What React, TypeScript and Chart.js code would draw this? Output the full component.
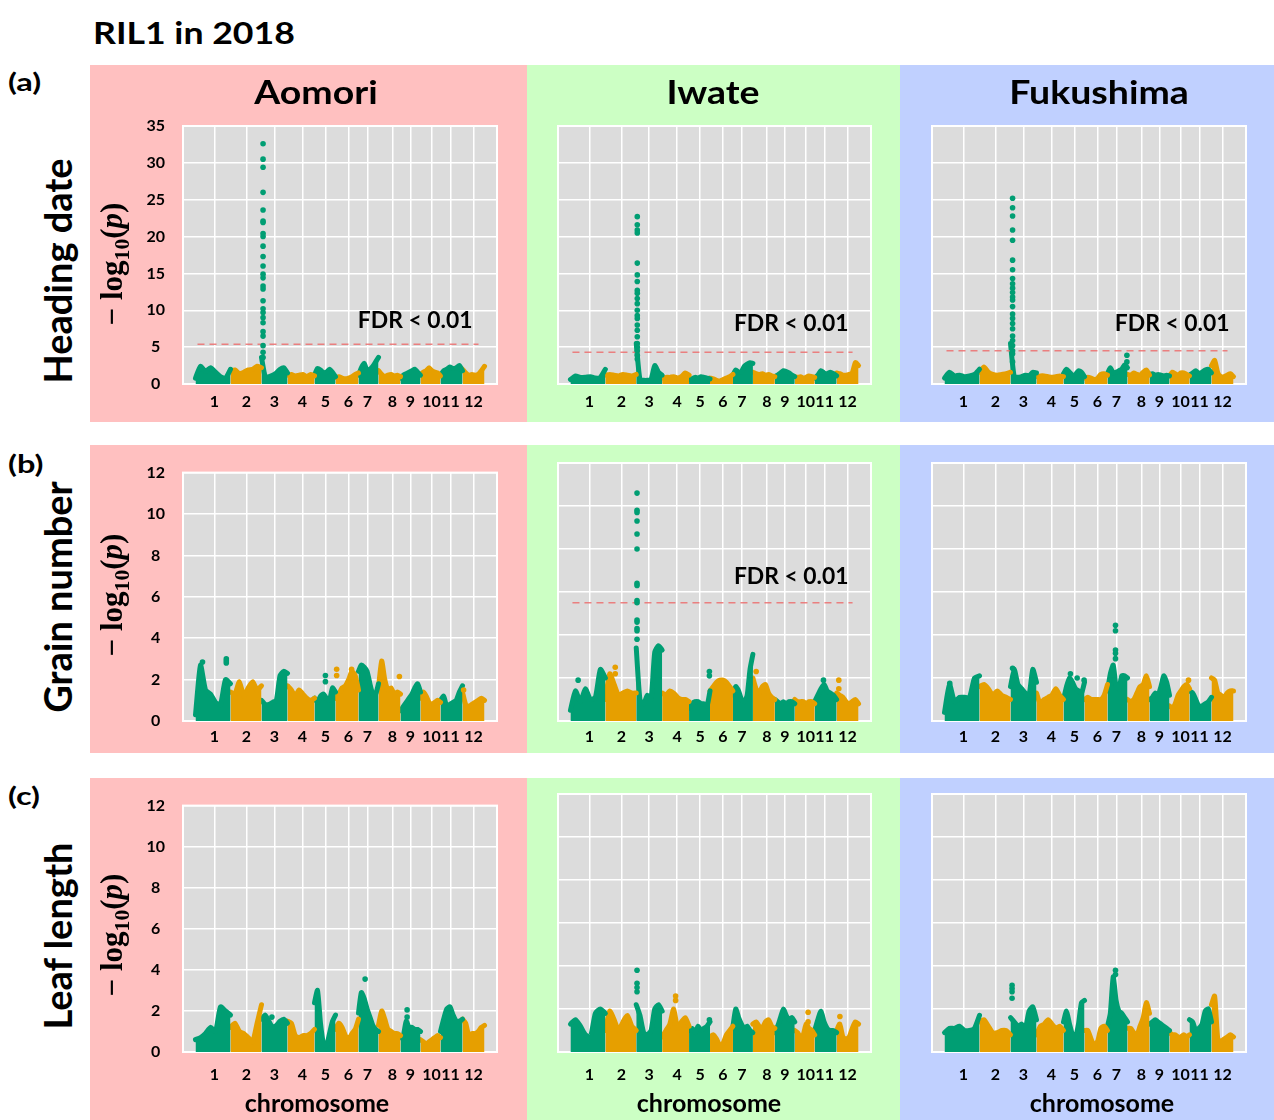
import React, { useEffect, useRef } from 'react';
import { Chart, registerables } from 'chart.js';

Chart.register(...registerables);

// ---------------- data ----------------
const CHROM_LABELS = ['1', '2', '3', '4', '5', '6', '7', '8', '9', '10', '11', '12'];
// cumulative marker index at chromosome boundaries
const CHROM_BOUNDS = [0, 35, 66, 92, 119, 140, 163, 183, 205, 225, 245, 267, 289];
// tick (label) positions on the marker index axis
const TICK_POS = [19, 51, 79, 107, 130, 153, 172, 197, 215, 236, 255, 278];
const X_MIN = -12.5;
const X_MAX = 301.5;

// upper envelopes of -log10(p) along each chromosome (8 readings per chromosome)
const HD_AOMORI = [
  [0.8, 2.4, 1.7, 2.2, 1.6, 1.0, 0.8, 2.0],
  [1.8, 1.9, 1.4, 1.6, 1.9, 2.0, 2.4, 2.2],
  [3.6, 1.0, 1.0, 1.2, 1.5, 2.0, 2.2, 1.5],
  [1.2, 1.3, 1.1, 1.2, 1.3, 1.0, 1.3, 1.1],
  [1.2, 2.1, 1.9, 1.5, 1.6, 2.0, 1.6, 1.0],
  [0.9, 1.0, 0.8, 0.7, 0.8, 1.0, 1.3, 1.5],
  [1.2, 2.2, 2.8, 1.8, 2.0, 2.4, 3.0, 3.6],
  [1.8, 1.3, 1.0, 1.2, 1.3, 1.1, 1.2, 1.0],
  [0.8, 1.2, 1.4, 1.6, 1.8, 2.0, 1.6, 1.2],
  [1.3, 1.6, 1.8, 2.2, 1.8, 1.6, 1.5, 1.1],
  [1.2, 1.8, 2.0, 2.3, 2.1, 2.2, 2.5, 1.8],
  [2.0, 1.5, 1.2, 1.3, 1.2, 1.3, 1.8, 2.4],
];
const HD_IWATE = [
  [0.6, 1.1, 0.9, 0.9, 1.0, 0.8, 0.9, 2.0],
  [1.2, 1.3, 1.2, 1.1, 1.3, 1.2, 1.1, 1.3],
  [5.5, 0.6, 0.5, 0.5, 0.6, 2.5, 1.6, 1.2],
  [0.8, 0.9, 0.9, 1.0, 0.8, 1.0, 1.5, 1.2],
  [0.6, 0.7, 0.9, 0.8, 1.0, 0.9, 0.8, 0.7],
  [0.8, 0.7, 0.5, 0.4, 0.6, 0.8, 1.0, 1.3],
  [1.2, 1.9, 1.6, 1.7, 2.4, 2.7, 2.9, 2.8],
  [1.6, 1.4, 1.3, 1.4, 1.2, 1.3, 1.1, 1.0],
  [1.0, 1.2, 1.5, 1.8, 1.7, 1.5, 1.2, 1.0],
  [1.0, 0.9, 1.0, 0.8, 0.9, 1.1, 1.0, 0.9],
  [0.8, 1.2, 1.8, 1.5, 1.4, 1.6, 1.4, 1.1],
  [1.5, 1.4, 1.2, 1.2, 1.3, 1.5, 2.9, 2.5],
];
const HD_FUKUSHIMA = [
  [0.8, 1.6, 1.1, 1.2, 1.0, 1.1, 1.3, 2.0],
  [1.6, 2.3, 1.6, 1.3, 1.2, 1.3, 1.4, 1.6],
  [5.5, 1.0, 0.9, 1.0, 1.2, 1.1, 1.6, 1.5],
  [1.0, 1.1, 1.1, 1.0, 0.9, 1.0, 1.1, 1.0],
  [1.4, 2.0, 1.6, 1.2, 1.3, 1.8, 1.6, 1.0],
  [0.8, 0.9, 0.8, 0.6, 0.8, 1.3, 1.4, 1.2],
  [1.4, 2.2, 1.5, 1.6, 1.8, 2.0, 2.6, 2.2],
  [1.3, 1.2, 1.5, 1.3, 1.2, 1.6, 1.9, 1.2],
  [1.3, 1.4, 1.2, 1.3, 1.2, 1.1, 1.2, 1.1],
  [1.1, 1.6, 1.4, 1.2, 1.5, 1.5, 1.3, 1.1],
  [1.2, 1.5, 1.8, 1.4, 1.6, 1.9, 2.0, 1.5],
  [2.5, 3.2, 1.5, 1.0, 1.0, 1.2, 1.4, 1.0],
];
const GN_AOMORI = [
  [0.3, 2.7, 1.5, 1.3, 0.9, 0.8, 2.0, 1.8],
  [1.4, 1.3, 1.9, 1.2, 1.6, 1.9, 1.5, 1.7],
  [1.0, 0.8, 0.8, 0.9, 1.0, 2.2, 2.4, 2.3],
  [1.7, 1.5, 1.2, 1.5, 1.3, 1.1, 1.0, 1.1],
  [1.1, 0.9, 1.2, 1.3, 1.1, 1.0, 1.6, 1.4],
  [1.1, 1.3, 1.6, 1.7, 2.0, 2.4, 2.2, 1.5],
  [2.4, 2.7, 2.6, 2.4, 1.8, 1.3, 1.3, 1.8],
  [1.6, 2.9, 2.0, 1.5, 1.6, 1.3, 1.4, 1.3],
  [0.5, 0.7, 0.9, 1.1, 1.3, 1.6, 1.8, 1.4],
  [1.1, 1.4, 1.2, 0.9, 0.8, 0.9, 1.0, 0.9],
  [1.0, 1.2, 0.7, 0.8, 0.9, 1.0, 1.4, 1.7],
  [1.4, 0.8, 0.7, 0.8, 0.9, 1.0, 1.1, 1.0],
];
const GN_IWATE = [
  [0.5, 1.4, 0.9, 1.5, 1.0, 1.1, 2.4, 2.0],
  [1.0, 2.2, 1.7, 1.2, 1.3, 1.4, 1.3, 1.3],
  [3.4, 1.0, 0.8, 1.2, 1.0, 3.2, 3.5, 3.3],
  [1.3, 1.2, 1.4, 1.3, 1.1, 1.0, 1.0, 0.9],
  [0.6, 0.8, 0.9, 0.9, 0.8, 0.8, 0.7, 1.4],
  [1.4, 1.6, 1.8, 1.9, 1.9, 1.8, 1.6, 1.4],
  [1.2, 1.6, 1.4, 1.0, 0.9, 1.2, 2.4, 3.1],
  [2.0, 1.5, 1.3, 1.6, 1.7, 1.3, 1.1, 1.0],
  [1.0, 0.9, 0.8, 0.9, 0.8, 0.9, 0.9, 0.8],
  [1.0, 0.9, 0.9, 0.9, 0.8, 0.9, 0.9, 0.8],
  [0.9, 1.2, 1.5, 1.7, 1.4, 1.3, 1.2, 1.0],
  [1.3, 1.2, 1.1, 0.9, 0.8, 0.9, 1.0, 0.8],
];
const GN_FUKUSHIMA = [
  [0.4, 1.7, 0.9, 1.1, 1.1, 1.1, 2.0, 2.1],
  [1.6, 1.7, 1.5, 1.2, 1.4, 1.2, 1.1, 1.0],
  [1.6, 2.4, 1.7, 1.5, 1.3, 1.2, 2.4, 1.8],
  [1.3, 0.8, 1.0, 1.1, 1.2, 1.5, 1.2, 1.0],
  [1.0, 1.6, 2.0, 1.8, 1.5, 1.4, 1.3, 1.8],
  [1.0, 1.1, 1.0, 1.0, 1.0, 1.0, 1.2, 1.7],
  [1.4, 2.2, 2.6, 1.6, 1.5, 2.1, 2.1, 2.0],
  [1.0, 0.9, 1.0, 1.3, 1.6, 1.7, 2.1, 1.6],
  [1.0, 1.1, 1.3, 1.2, 1.6, 2.1, 1.8, 1.2],
  [0.7, 0.6, 0.8, 1.2, 1.4, 1.6, 1.7, 1.5],
  [1.4, 1.3, 1.0, 0.7, 0.7, 0.8, 0.9, 1.1],
  [2.0, 1.9, 1.3, 1.2, 1.1, 1.3, 1.4, 1.4],
];
const LL_AOMORI = [
  [0.6, 0.7, 0.9, 1.2, 1.0, 2.2, 2.0, 1.8],
  [1.2, 1.4, 1.0, 0.9, 0.7, 0.5, 1.4, 2.3],
  [1.6, 1.8, 1.5, 1.2, 1.3, 1.5, 1.6, 1.4],
  [1.5, 1.4, 0.8, 0.7, 0.8, 0.8, 0.9, 1.1],
  [2.4, 3.0, 1.4, 0.4, 0.3, 0.9, 1.5, 1.8],
  [1.1, 1.4, 1.2, 0.8, 0.6, 0.9, 1.1, 1.6],
  [1.9, 2.9, 2.6, 2.1, 1.7, 1.3, 1.1, 1.0],
  [1.3, 2.0, 1.6, 1.1, 1.0, 0.9, 0.9, 0.8],
  [0.7, 0.8, 1.5, 1.2, 1.2, 1.1, 1.1, 1.0],
  [0.6, 0.5, 0.4, 0.5, 0.6, 0.7, 0.8, 0.7],
  [1.0, 1.6, 2.1, 2.2, 1.8, 1.5, 1.5, 1.6],
  [1.6, 1.4, 0.8, 0.9, 0.9, 1.0, 1.2, 1.3],
];
const LL_IWATE = [
  [1.3, 1.5, 1.2, 0.8, 0.7, 1.8, 2.0, 1.8],
  [1.0, 1.9, 1.5, 1.0, 1.4, 1.7, 1.2, 1.0],
  [2.2, 1.7, 0.9, 0.8, 1.0, 2.0, 2.2, 1.9],
  [0.7, 1.0, 1.3, 2.0, 1.1, 1.4, 1.6, 1.2],
  [1.0, 1.1, 0.9, 1.2, 1.0, 1.1, 1.2, 1.4],
  [0.7, 0.8, 0.6, 0.3, 0.4, 0.8, 1.0, 1.2],
  [1.2, 2.0, 1.6, 1.3, 1.1, 1.2, 1.0, 0.9],
  [1.3, 1.4, 1.2, 1.1, 1.4, 1.5, 1.2, 1.1],
  [0.9, 1.2, 1.6, 2.0, 1.7, 1.5, 1.6, 1.4],
  [1.0, 0.9, 0.7, 0.8, 1.3, 1.1, 1.0, 0.8],
  [1.0, 1.5, 1.9, 1.4, 1.1, 1.0, 1.0, 0.9],
  [1.0, 1.3, 0.7, 0.6, 0.7, 1.1, 1.4, 1.3],
];
const LL_FUKUSHIMA = [
  [0.9, 1.1, 1.1, 1.2, 1.0, 1.0, 1.1, 1.7],
  [1.4, 1.5, 1.2, 0.9, 0.9, 1.0, 1.0, 0.8],
  [1.6, 1.4, 1.2, 1.3, 1.1, 1.9, 2.1, 1.5],
  [0.8, 1.2, 1.3, 1.5, 1.3, 1.1, 1.2, 1.0],
  [1.4, 1.9, 1.3, 0.8, 0.7, 1.3, 2.3, 2.4],
  [1.0, 1.0, 0.6, 0.3, 0.5, 1.1, 1.2, 1.0],
  [1.2, 1.8, 3.5, 2.4, 1.9, 1.8, 1.6, 1.4],
  [1.1, 1.1, 0.9, 0.8, 1.2, 1.6, 2.3, 1.8],
  [1.3, 1.4, 1.5, 1.4, 1.3, 1.2, 1.1, 1.0],
  [0.9, 0.8, 0.8, 0.7, 0.7, 0.8, 0.7, 0.8],
  [1.5, 1.4, 1.0, 1.1, 1.3, 1.9, 2.0, 1.4],
  [2.2, 2.6, 0.6, 0.5, 0.6, 0.7, 0.8, 0.7],
];

// isolated markers: [chromosome, relative position in chromosome, -log10(p)]
const HD_AOMORI_PEAKS = [
  32.6, 30.5, 29.4, 26.0, 23.6, 22.1, 21.9, 20.4, 20.0, 18.7, 17.3, 16.0, 14.9, 14.4,
  13.3, 12.9, 11.3, 10.2, 9.7, 9.0, 8.3, 7.1, 6.5, 5.2, 4.3, 3.6,
].map((v) => [3, 0.06, v]);
const HD_IWATE_PEAKS = [
  22.7, 21.6, 20.9, 20.5, 16.4, 14.8, 13.9, 12.7, 12.3, 11.6, 10.9, 10.0, 9.3, 8.9, 8.0,
  7.3, 6.4, 5.5, 5.0, 4.5, 3.9, 3.4,
].map((v) => [3, 0.04, v]);
const HD_FUKUSHIMA_PEAKS = [
  ...[25.2, 23.9, 22.8, 20.9, 19.5, 16.8, 15.5, 14.3, 13.6, 13.0, 12.4, 11.8, 11.4, 10.5, 9.5,
    8.9, 8.2, 7.5, 6.5, 5.9, 5.2, 4.5, 4.1, 3.0].map((v) => [3, 0.08, v]),
  [7, 0.97, 3.9], [7, 0.97, 3.0],
];
const GN_AOMORI_PEAKS = [
  [1, 0.88, 3.0], [1, 0.88, 2.9], [1, 0.88, 2.8], [1, 0.2, 2.85],
  [5, 0.52, 2.2], [5, 0.52, 1.9], [6, 0.05, 2.5], [6, 0.05, 2.2],
  [6, 0.7, 2.5], [8, 0.95, 2.15], [12, 0.05, 1.5],
];
const GN_IWATE_PEAKS = [
  ...[10.6, 9.8, 9.7, 9.3, 8.7, 8.0, 6.4, 6.3, 5.6, 5.5, 4.7, 4.6, 4.3, 4.2, 3.8].map((v) => [3, 0.03, v]),
  [1, 0.22, 1.9], [2, 0.32, 2.5], [2, 0.32, 2.2], [5, 0.97, 2.3], [5, 0.97, 2.1],
  [8, 0.15, 2.3], [11, 0.4, 1.9], [12, 0.1, 1.9], [12, 0.1, 1.5],
];
const GN_FUKUSHIMA_PEAKS = [
  [7, 0.4, 4.45], [7, 0.4, 4.2], [7, 0.4, 3.3], [7, 0.4, 3.15], [7, 0.4, 2.9],
  [1, 0.15, 1.75], [3, 0.08, 2.45], [5, 0.33, 2.2], [5, 0.65, 2.0], [5, 0.98, 1.9], [10, 0.95, 1.9],
];
const LL_AOMORI_PEAKS = [[7, 0.33, 3.55], [9, 0.33, 2.05], [9, 0.33, 1.7], [3, 0.4, 1.7]];
const LL_IWATE_PEAKS = [
  [3, 0.03, 3.8], [3, 0.03, 3.2], [3, 0.03, 3.0], [3, 0.03, 2.8],
  [4, 0.5, 2.6], [4, 0.5, 2.4], [10, 0.67, 1.85], [10, 0.67, 1.4], [12, 0.15, 1.65], [5, 0.97, 1.5],
];
const LL_FUKUSHIMA_PEAKS = [
  [3, 0.06, 3.1], [3, 0.06, 2.95], [3, 0.06, 2.8], [3, 0.06, 2.5],
  [7, 0.4, 3.8], [7, 0.4, 3.6],
];

// FDR < 0.01 thresholds (Aomori, Iwate, Fukushima)
const HD_THRESHOLDS = [5.4, 4.3, 4.5];
const GN_THRESHOLDS = [null, 5.5, null];
const LL_THRESHOLDS = [null, null, null];
const THR_X = [2, 283];

// ---------------- styling / layout ----------------
const TEAL = '#009e73';
const ORANGE = '#e69f00';
const PLOT_BG = '#dcdcdc';
const FONT = "Lato, 'Open Sans', 'DejaVu Sans', sans-serif";
const SERIF = "'Liberation Serif', 'DejaVu Serif', serif";

const COLS = [
  { left: 90, width: 437, bg: '#ffc0c0', plotLeft: 93, plotRight: 30, showY: true, name: 'Aomori', nameX: 316, chromX: 317 },
  { left: 527, width: 373, bg: '#ccffc4', plotLeft: 31, plotRight: 29, showY: false, name: 'Iwate', nameX: 713, chromX: 709 },
  { left: 900, width: 374, bg: '#c0d0ff', plotLeft: 32, plotRight: 28, showY: false, name: 'Fukushima', nameX: 1099, chromX: 1102 },
];
const ROWS = [
  { top: 65, height: 357, padTop: 61, xAxisH: 38, tickPad: 8, ymax: 35, step: 5, label: 'Heading date', labelY: 271, letter: '(a)', letterY: 81, ylabY: 264 },
  { top: 445, height: 308, padTop: 18, xAxisH: 32, tickPad: 6, ymax: 12, step: 2, label: 'Grain number', labelY: 597, letter: '(b)', letterY: 463, ylabY: 595 },
  { top: 778, height: 342, padTop: 16, xAxisH: 68, tickPad: 13, ymax: 12, step: 2, label: 'Leaf length', labelY: 936, letter: '(c)', letterY: 795, ylabY: 935 },
];

const PANELS = [
  { row: 0, col: 0, env: HD_AOMORI, peaks: HD_AOMORI_PEAKS, thr: HD_THRESHOLDS[0], fdr: { x: 277, y: 8.5 } },
  { row: 0, col: 1, env: HD_IWATE, peaks: HD_IWATE_PEAKS, thr: HD_THRESHOLDS[1], fdr: { x: 279, y: 8.2 } },
  { row: 0, col: 2, env: HD_FUKUSHIMA, peaks: HD_FUKUSHIMA_PEAKS, thr: HD_THRESHOLDS[2], fdr: { x: 285, y: 8.2 } },
  { row: 1, col: 0, env: GN_AOMORI, peaks: GN_AOMORI_PEAKS, thr: GN_THRESHOLDS[0], fdr: null },
  { row: 1, col: 1, env: GN_IWATE, peaks: GN_IWATE_PEAKS, thr: GN_THRESHOLDS[1], fdr: { x: 279, y: 6.7 } },
  { row: 1, col: 2, env: GN_FUKUSHIMA, peaks: GN_FUKUSHIMA_PEAKS, thr: GN_THRESHOLDS[2], fdr: null },
  { row: 2, col: 0, env: LL_AOMORI, peaks: LL_AOMORI_PEAKS, thr: LL_THRESHOLDS[0], fdr: null },
  { row: 2, col: 1, env: LL_IWATE, peaks: LL_IWATE_PEAKS, thr: LL_THRESHOLDS[1], fdr: null },
  { row: 2, col: 2, env: LL_FUKUSHIMA, peaks: LL_FUKUSHIMA_PEAKS, thr: LL_THRESHOLDS[2], fdr: null },
];

const chromX = (c: number, f: number) => CHROM_BOUNDS[c - 1] + f * (CHROM_BOUNDS[c] - CHROM_BOUNDS[c - 1]);
const chromColor = (c: number) => (c % 2 === 1 ? TEAL : ORANGE);

const panelPlugin = {
  id: 'panel',
  beforeDraw(chart: any) {
    const { ctx, chartArea: a } = chart;
    ctx.save();
    ctx.fillStyle = PLOT_BG;
    ctx.fillRect(a.left, a.top, a.width, a.height);
    ctx.restore();
  },
  beforeDatasetsDraw(chart: any) {
    const { ctx, chartArea: a } = chart;
    ctx.save();
    ctx.strokeStyle = '#ffffff';
    ctx.lineWidth = 2;
    ctx.strokeRect(a.left, a.top, a.width, a.height);
    ctx.restore();
  },
  afterDatasetsDraw(chart: any, _args: any, opts: any) {
    if (!opts || !opts.fdr) return;
    const { ctx } = chart;
    const x = chart.scales.x.getPixelForValue(opts.fdr.x);
    const y = chart.scales.y.getPixelForValue(opts.fdr.y);
    ctx.save();
    ctx.translate(x, y);
    ctx.scale(1.04, 1);
    ctx.font = `bold 22px ${FONT}`;
    ctx.fillStyle = '#000000';
    ctx.textAlign = 'right';
    ctx.textBaseline = 'middle';
    ctx.fillText('FDR < 0.01', 0, 0);
    ctx.restore();
  },
};

function Panel({ p }: { p: any }) {
  const ref = useRef<HTMLCanvasElement>(null);
  const col = COLS[p.col];
  const row = ROWS[p.row];
  useEffect(() => {
    const datasets: any[] = [];
    datasets.push({
      data: p.peaks.map(([c, f, v]: number[]) => ({ x: chromX(c, f), y: v })),
      showLine: false,
      pointRadius: 2.8,
      pointBorderWidth: 0,
      pointBackgroundColor: p.peaks.map(([c]: number[]) => chromColor(c)),
      pointBorderColor: p.peaks.map(([c]: number[]) => chromColor(c)),
    });
    if (p.thr != null) {
      datasets.push({
        data: THR_X.map((x) => ({ x, y: p.thr })),
        showLine: true,
        fill: false,
        borderColor: 'rgba(236, 110, 110, 0.85)',
        borderWidth: 1.5,
        borderDash: [7, 5],
        pointRadius: 0,
      });
    }
    p.env.forEach((vals: number[], i: number) => {
      const c = i + 1;
      const color = chromColor(c);
      datasets.push({
        data: vals.map((v, k) => ({ x: chromX(c, k / (vals.length - 1)), y: v })),
        showLine: true,
        fill: 'origin',
        backgroundColor: color,
        borderColor: color,
        borderWidth: 5,
        borderJoinStyle: 'round',
        borderCapStyle: 'round',
        tension: 0.2,
        pointRadius: 0,
      });
    });
    const tickFont = { family: FONT, weight: 'bold' as const, size: 16 };
    const chart = new Chart(ref.current as HTMLCanvasElement, {
      type: 'scatter',
      data: { datasets },
      plugins: [panelPlugin],
      options: {
        responsive: false,
        animation: false,
        events: [],
        layout: { padding: { top: row.padTop, right: col.plotRight, left: 0, bottom: 0 } },
        plugins: {
          legend: { display: false },
          tooltip: { enabled: false },
          panel: { fdr: p.fdr },
        } as any,
        scales: {
          x: {
            type: 'linear',
            min: X_MIN,
            max: X_MAX,
            afterBuildTicks: (s: any) => {
              s.ticks = TICK_POS.map((v) => ({ value: v }));
            },
            afterFit: (s: any) => {
              s.height = row.xAxisH;
            },
            ticks: {
              autoSkip: false,
              maxRotation: 0,
              minRotation: 0,
              padding: row.tickPad,
              color: '#000000',
              font: tickFont,
              callback: (_v: any, i: number) => CHROM_LABELS[i],
            },
            grid: { color: '#ffffff', lineWidth: 1.5, drawTicks: false },
            border: { display: false },
          },
          y: {
            type: 'linear',
            min: 0,
            max: row.ymax,
            afterFit: (s: any) => {
              s.width = col.plotLeft;
            },
            ticks: {
              display: col.showY,
              stepSize: row.step,
              padding: 18,
              crossAlign: 'center',
              color: '#000000',
              font: tickFont,
            },
            grid: { color: '#ffffff', lineWidth: 1.5, drawTicks: false },
            border: { display: false },
          },
        },
      } as any,
    });
    return () => chart.destroy();
  }, []);
  return (
    <canvas
      ref={ref}
      width={col.width}
      height={row.height}
      style={{ position: 'absolute', left: col.left, top: row.top, width: col.width, height: row.height, display: 'block' }}
    />
  );
}

const centered = (x: number, y: number, transform: string, extra: React.CSSProperties = {}): React.CSSProperties => ({
  position: 'absolute',
  left: x,
  top: y,
  transform: `translate(-50%, -50%) ${transform}`,
  whiteSpace: 'nowrap',
  lineHeight: 1,
  ...extra,
});

export default function App() {
  useEffect(() => {
    document.body.style.margin = '0';
  }, []);
  return (
    <div style={{ position: 'absolute', left: 0, top: 0, width: 1274, height: 1120, background: '#ffffff', overflow: 'hidden', fontFamily: FONT, color: '#000000' }}>
      {ROWS.map((r, ri) =>
        COLS.map((c, ci) => (
          <div key={`bg-${ri}-${ci}`} style={{ position: 'absolute', left: c.left, top: r.top, width: c.width, height: r.height, background: c.bg }} />
        ))
      )}
      {PANELS.map((p, i) => (
        <Panel key={i} p={p} />
      ))}
      <div style={{ position: 'absolute', left: 93, top: 32, transform: 'translateY(-50%) scaleX(1.15)', transformOrigin: 'left center', fontWeight: 700, fontSize: 31, lineHeight: 1, whiteSpace: 'nowrap' }}>RIL1 in 2018</div>
      {ROWS.map((r, ri) => (
        <React.Fragment key={`rl-${ri}`}>
          <div style={{ position: 'absolute', left: 8, top: r.letterY, transform: 'translateY(-50%) scaleX(1.3)', transformOrigin: 'left center', fontWeight: 700, fontSize: 25, lineHeight: 1, whiteSpace: 'nowrap' }}>{r.letter}</div>
          <div style={centered(57, r.labelY, 'rotate(-90deg)', { fontWeight: 700, fontSize: 38 })}>{r.label}</div>
          <div style={centered(115, r.ylabY, 'rotate(-90deg)', { fontFamily: SERIF, fontWeight: 700, fontSize: 31 })}>
            <span>{'\u2212 log'}</span>
            <sub style={{ fontSize: '0.7em' }}>10</sub>
            <span>(</span>
            <i>p</i>
            <span>)</span>
          </div>
        </React.Fragment>
      ))}
      {COLS.map((c, ci) => (
        <React.Fragment key={`cl-${ci}`}>
          <div style={centered(c.nameX, 92, 'scaleX(1.17)', { fontWeight: 700, fontSize: 32 })}>{c.name}</div>
          <div style={centered(c.chromX, 1102, '', { fontWeight: 700, fontSize: 25 })}>chromosome</div>
        </React.Fragment>
      ))}
    </div>
  );
}
